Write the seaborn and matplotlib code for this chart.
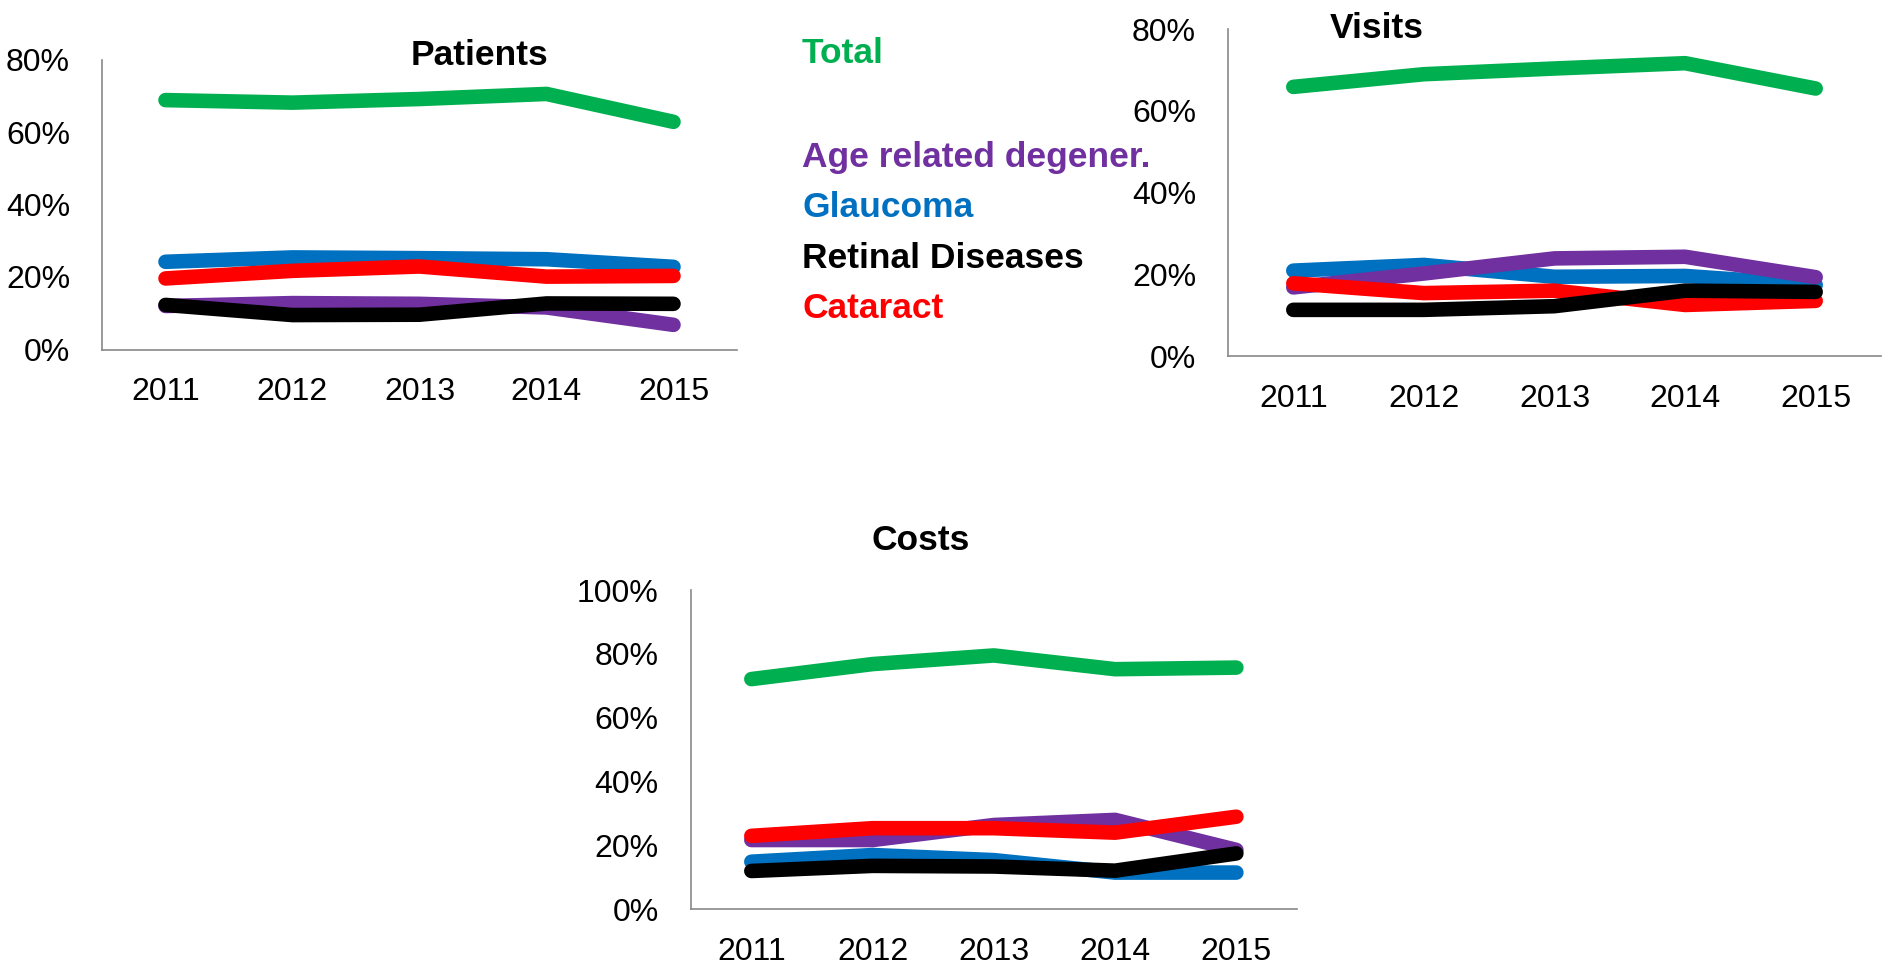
import pandas as pd
import matplotlib.pyplot as plt
import seaborn as sns
from matplotlib import font_manager
from matplotlib.ticker import PercentFormatter, FixedLocator

# Data (share in %)
years = [2011, 2012, 2013, 2014, 2015]
conditions = ['Total', 'Age related degener.', 'Glaucoma', 'Retinal Diseases', 'Cataract']
colors = {'Total': '#00B050', 'Age related degener.': '#7030A0', 'Glaucoma': '#0070C0',
          'Retinal Diseases': '#000000', 'Cataract': '#FF0000'}

patients_total = [68.8, 68.1, 69.1, 70.5, 62.8]
patients_age = [12.0, 12.8, 12.6, 11.6, 6.8]
patients_glaucoma = [24.2, 25.4, 25.2, 24.9, 22.8]
patients_retinal = [12.3, 9.5, 9.6, 12.7, 12.6]
patients_cataract = [19.6, 21.7, 22.9, 20.1, 20.3]

visits_total = [65.9, 69.0, 70.4, 71.7, 65.5]
visits_age = [16.8, 20.2, 23.9, 24.3, 19.3]
visits_glaucoma = [20.9, 22.3, 19.4, 19.6, 17.4]
visits_retinal = [11.3, 11.3, 12.2, 16.0, 15.7]
visits_cataract = [17.8, 15.4, 16.0, 12.5, 13.5]

costs_total = [72.1, 76.8, 79.5, 75.2, 75.7]
costs_age = [21.7, 21.7, 26.4, 28.0, 18.6]
costs_glaucoma = [14.9, 17.0, 15.4, 11.5, 11.5]
costs_retinal = [12.0, 13.6, 13.4, 12.1, 17.5]
costs_cataract = [23.0, 25.4, 25.4, 24.0, 29.0]

# drawing order (later = on top)
draw_order = ['Total', 'Glaucoma', 'Age related degener.', 'Cataract', 'Retinal Diseases']


def to_long(total, age, glaucoma, retinal, cataract):
    series = dict(zip(conditions, [total, age, glaucoma, retinal, cataract]))
    rows = []
    for cond, vals in series.items():
        for y, v in zip(years, vals):
            rows.append({'year': y, 'share': v, 'condition': cond})
    return pd.DataFrame(rows)


panels = [
    ('Patients', to_long(patients_total, patients_age, patients_glaucoma, patients_retinal, patients_cataract),
     80, [102, 59.5, 737, 349.5], (480, 65)),
    ('Visits', to_long(visits_total, visits_age, visits_glaucoma, visits_retinal, visits_cataract),
     80, [1228, 29.3, 1881, 356], (1377, 38)),
    ('Costs', to_long(costs_total, costs_age, costs_glaucoma, costs_retinal, costs_cataract),
     100, [690.7, 590, 1297, 909.3], (921, 550)),
]

sns.set_style('white')
names = {f.name for f in font_manager.fontManager.ttflist}
narrow = 'Liberation Sans Narrow' in names
head_font = 'Liberation Sans Narrow' if narrow else 'Liberation Sans'
head_size = 30 if narrow else 25.5
plt.rcParams['font.family'] = ['Liberation Sans', 'DejaVu Sans']

W, H = 1886, 964
fig = plt.figure(figsize=(W / 100, H / 100), dpi=100)
axis_grey = '#898989'

for title, df, ymax, (x0, y0, x1, y1), (tx, ty) in panels:
    ax = fig.add_axes([x0 / W, 1 - y1 / H, (x1 - x0) / W, (y1 - y0) / H])
    sns.lineplot(data=df, x='year', y='share', hue='condition', hue_order=draw_order,
                 palette=colors, linewidth=10.5, legend=False, ax=ax,
                 solid_capstyle='round', solid_joinstyle='round')
    ax.set_xlim(years[0] - 0.5, years[-1] + 0.5)
    ax.set_ylim(0, ymax)
    ax.set_xlabel('')
    ax.set_ylabel('')
    ax.set_xticks(years)
    ax.set_xticklabels([str(y) for y in years])
    ax.xaxis.set_minor_locator(FixedLocator([y - 0.5 for y in years] + [years[-1] + 0.5]))
    ax.set_yticks(range(0, ymax + 1, 20))
    ax.yaxis.set_major_formatter(PercentFormatter(xmax=100, decimals=0))
    ax.tick_params(axis='x', which='major', length=0, pad=20, labelsize=23, labelcolor='black')
    ax.tick_params(axis='x', which='minor', length=10, width=1.2, color=axis_grey, direction='out')
    ax.tick_params(axis='y', which='major', length=10, width=1.2, color=axis_grey,
                   direction='out', pad=13, labelsize=23, labelcolor='black')
    sns.despine(ax=ax)
    for side in ['left', 'bottom']:
        ax.spines[side].set_color(axis_grey)
        ax.spines[side].set_linewidth(1.2)
    ax.patch.set_alpha(0)
    fig.text(tx / W, 1 - ty / H, title, ha='center', va='baseline', fontsize=head_size,
             fontweight='bold', family=head_font, color='black')

# legend as coloured text
legend_baselines = [63, 167, 217, 268, 318]
for cond, base in zip(conditions, legend_baselines):
    fig.text(802 / W, 1 - base / H, cond, ha='left', va='baseline', fontsize=head_size,
             fontweight='bold', family=head_font, color=colors[cond])

fig.savefig('out.png', dpi=100)
